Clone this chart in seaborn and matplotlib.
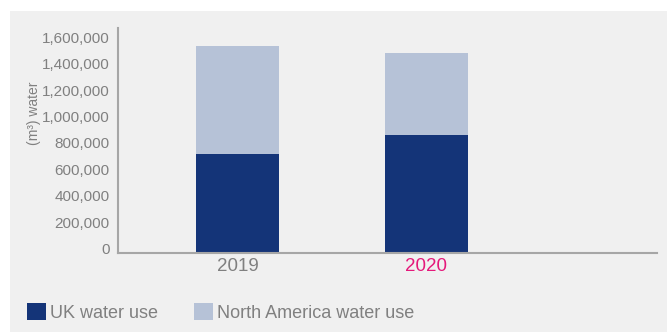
import matplotlib
matplotlib.use("Agg")
import numpy as np
import pandas as pd
import seaborn as sns
import matplotlib.pyplot as plt
from matplotlib.patches import Patch, Rectangle
from matplotlib.ticker import FuncFormatter
from matplotlib.transforms import ScaledTranslation

years = ["2019", "2020"]
uk_use = [745000, 889000]
na_use = [817000, 622000]
y_ticks = [0, 200000, 400000, 600000, 800000, 1000000, 1200000, 1400000, 1600000]

dark = "#143478"
light = "#b6c2d7"
grey = "#808080"
pink = "#e5197b"
bg = "#f0f0f0"

plt.rcParams["font.family"] = ["Liberation Sans", "DejaVu Sans"]

df = pd.DataFrame({"year": years, "uk": uk_use, "na": na_use})
df["total"] = df["uk"] + df["na"]

fig = plt.figure(figsize=(6.67, 3.32), dpi=100)
fig.patches.append(Rectangle((10 / 667, 0), 1, 1 - 11 / 332, transform=fig.transFigure,
                             facecolor=bg, edgecolor="none", zorder=-10))
ax = fig.add_axes([118 / 667, 1 - 252.6 / 332, (657 - 118) / 667, (252.6 - 28) / 332])
ax.set_facecolor("none")

# stacked look: total bar in light, UK part drawn over it
sns.barplot(data=df, x="year", y="total", color=light, saturation=1, width=0.44, ax=ax)
sns.barplot(data=df, x="year", y="uk", color=dark, saturation=1, width=0.44, ax=ax)

ax.set_xlim(-0.632, 2.22)
ax.set_ylim(0, 1700000)
ax.set_yticks(y_ticks)
ax.yaxis.set_major_formatter(FuncFormatter(lambda v, p: f"{int(v):,}"))

for s in ["top", "right"]:
    ax.spines[s].set_visible(False)
for s in ["left", "bottom"]:
    ax.spines[s].set_color("#a6a6a6")
    ax.spines[s].set_linewidth(1.5)

ax.tick_params(axis="y", length=0, pad=6, labelsize=11, labelcolor=grey)
ax.tick_params(axis="x", length=0, pad=4, labelsize=13.5, labelcolor=grey)
ax.get_xticklabels()[1].set_color(pink)

offset = ScaledTranslation(0, 4 / 100, fig.dpi_scale_trans)
for lab in ax.get_yticklabels():
    lab.set_transform(lab.get_transform() + offset)

ax.set_xlabel("")
ax.set_ylabel("(m³) water", fontsize=10, color=grey)
ax.yaxis.set_label_coords(-0.143, 0.62)

handles = [Patch(facecolor=dark, edgecolor="none"), Patch(facecolor=light, edgecolor="none")]
fig.legend(handles, ["UK water use", "North America water use"], ncol=2, frameon=False,
           loc="lower left", bbox_to_anchor=(27 / 667, 1 - 322 / 332), borderaxespad=0,
           borderpad=0, fontsize=13, labelcolor=grey, handlelength=1.05, handleheight=1.05,
           handletextpad=0.25, columnspacing=1.95)

fig.savefig("out.png", dpi=100)
